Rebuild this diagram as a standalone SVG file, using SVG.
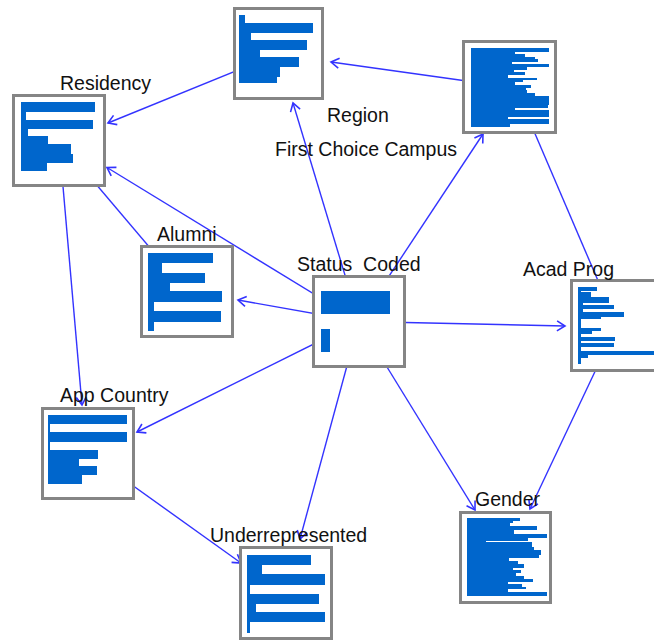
<svg xmlns="http://www.w3.org/2000/svg" width="654" height="641" viewBox="0 0 654 641">
<defs>
<style>
.box{fill:#fff;stroke:#858585;stroke-width:3}
.b{fill:#0066cc;shape-rendering:crispEdges}
.lbl{font-family:"Liberation Sans",Arial,sans-serif;font-size:19.5px;fill:#111;white-space:pre}
.e{stroke:#3333ff;stroke-width:1.4;fill:none}
</style>
<marker id="arr" markerUnits="userSpaceOnUse" markerWidth="14" markerHeight="14" viewBox="-11 -7 13 14" refX="0" refY="0" orient="auto">
<path d="M-8,-5 L0,0 L-8,5" fill="none" stroke="#3333ff" stroke-width="1.6"/>
</marker>
</defs>
<rect width="654" height="641" fill="#fff"/>
<g id="connectors">
<line class="e" x1="509.5" y1="87" x2="331" y2="62" marker-end="url(#arr)"/>
<line class="e" x1="278.5" y1="53.5" x2="108" y2="123" marker-end="url(#arr)"/>
<line class="e" x1="359" y1="321.5" x2="293" y2="103" marker-end="url(#arr)"/>
<line class="e" x1="359" y1="321.5" x2="483" y2="134" marker-end="url(#arr)"/>
<line class="e" x1="617" y1="325" x2="530" y2="122" marker-end="url(#arr)"/>
<line class="e" x1="617" y1="325" x2="530" y2="509" marker-end="url(#arr)"/>
<line class="e" x1="359" y1="321.5" x2="565" y2="326" marker-end="url(#arr)"/>
<line class="e" x1="359" y1="321.5" x2="475" y2="510" marker-end="url(#arr)"/>
<line class="e" x1="359" y1="321.5" x2="300" y2="539" marker-end="url(#arr)"/>
<line class="e" x1="359" y1="321.5" x2="137" y2="432" marker-end="url(#arr)"/>
<line class="e" x1="359" y1="321.5" x2="238" y2="300" marker-end="url(#arr)"/>
<line class="e" x1="359" y1="321.5" x2="107" y2="167.5" marker-end="url(#arr)"/>
<line class="e" x1="59" y1="140.5" x2="187" y2="291.5"/>
<line class="e" x1="59" y1="140.5" x2="82" y2="405" marker-end="url(#arr)"/>
<line class="e" x1="88" y1="453.5" x2="241" y2="563" marker-end="url(#arr)"/>
</g>
<g id="node-region">
<rect class="box" x="234.5" y="8.5" width="88" height="90"/>
<rect class="b" x="239" y="15" width="6" height="8"/>
<rect class="b" x="239" y="23" width="74" height="10"/>
<rect class="b" x="239" y="33" width="12" height="7"/>
<rect class="b" x="239" y="40" width="68" height="10"/>
<rect class="b" x="239" y="50" width="21" height="7"/>
<rect class="b" x="239" y="57" width="60" height="10"/>
<rect class="b" x="239" y="67" width="41" height="10"/>
<rect class="b" x="239" y="77" width="38" height="6"/>
<text class="lbl" x="327" y="122">Region</text>
</g>
<g id="node-first-choice-campus">
<rect class="box" x="463.5" y="41.5" width="92" height="91"/>
<rect class="b" x="471" y="48.3" width="78" height="3.4"/>
<rect class="b" x="471" y="51.7" width="44" height="2.6"/>
<rect class="b" x="471" y="54.3" width="54" height="2.7"/>
<rect class="b" x="471" y="57" width="64" height="2"/>
<rect class="b" x="471" y="59" width="67" height="2.7"/>
<rect class="b" x="471" y="61.7" width="41" height="2.6"/>
<rect class="b" x="471" y="64.3" width="78" height="3"/>
<rect class="b" x="471" y="67.3" width="56" height="2.7"/>
<rect class="b" x="471" y="70" width="43" height="2.3"/>
<rect class="b" x="471" y="72.3" width="54" height="2.7"/>
<rect class="b" x="471" y="75" width="37" height="2.7"/>
<rect class="b" x="471" y="77.7" width="66" height="2.3"/>
<rect class="b" x="471" y="80" width="52" height="2.3"/>
<rect class="b" x="471" y="82.3" width="44" height="2.7"/>
<rect class="b" x="471" y="85" width="60" height="2.7"/>
<rect class="b" x="471" y="87.7" width="55" height="2.6"/>
<rect class="b" x="471" y="90.3" width="56" height="3"/>
<rect class="b" x="471" y="93.3" width="64" height="2.4"/>
<rect class="b" x="471" y="95.7" width="78" height="9.3"/>
<rect class="b" x="471" y="105" width="77" height="2.7"/>
<rect class="b" x="471" y="107.7" width="44" height="2.3"/>
<rect class="b" x="471" y="110" width="78" height="6.7"/>
<rect class="b" x="471" y="116.7" width="37" height="2.3"/>
<rect class="b" x="471" y="119" width="78" height="5.3"/>
<rect class="b" x="471" y="124.3" width="39" height="2.4"/>
<text class="lbl" x="275" y="156">First Choice Campus</text>
</g>
<g id="node-residency">
<rect class="box" x="13.5" y="95.5" width="91" height="90"/>
<rect class="b" x="21" y="102" width="74" height="9.5"/>
<rect class="b" x="21" y="111.5" width="5" height="8"/>
<rect class="b" x="21" y="119.5" width="72" height="9"/>
<rect class="b" x="21" y="128.5" width="7" height="7.5"/>
<rect class="b" x="21" y="136" width="27" height="8"/>
<rect class="b" x="21" y="144" width="50" height="9.5"/>
<rect class="b" x="21" y="153.5" width="52" height="9"/>
<rect class="b" x="21" y="162.5" width="26" height="8.5"/>
<text class="lbl" x="60" y="90">Residency</text>
</g>
<g id="node-alumni">
<rect class="box" x="141.5" y="246.5" width="91" height="90"/>
<rect class="b" x="148" y="252.5" width="65" height="10.5"/>
<rect class="b" x="148" y="263" width="14" height="9.5"/>
<rect class="b" x="148" y="272.5" width="57" height="10"/>
<rect class="b" x="148" y="282.5" width="22" height="8"/>
<rect class="b" x="148" y="290.5" width="74" height="11"/>
<rect class="b" x="148" y="301.5" width="6" height="9"/>
<rect class="b" x="148" y="310.5" width="73" height="11"/>
<rect class="b" x="148" y="321.5" width="6" height="9"/>
<text class="lbl" x="157" y="241">Alumni</text>
</g>
<g id="node-status-coded">
<rect class="box" x="313.5" y="276.5" width="91" height="90"/>
<rect class="b" x="321" y="291" width="69" height="23"/>
<rect class="b" x="321" y="329" width="9" height="23"/>
<text class="lbl" x="297" y="271" xml:space="preserve">Status  Coded</text>
</g>
<g id="node-acad-prog">
<rect class="box" x="571.5" y="280.5" width="91" height="90"/>
<rect class="b" x="578" y="287" width="3" height="77"/>
<rect class="b" x="578" y="287" width="19" height="4"/>
<rect class="b" x="578" y="291.5" width="13" height="5"/>
<rect class="b" x="578" y="296.5" width="5" height="1"/>
<rect class="b" x="578" y="297" width="31" height="6"/>
<rect class="b" x="578" y="303" width="5" height="1.5"/>
<rect class="b" x="578" y="304.5" width="36" height="4"/>
<rect class="b" x="578" y="308.5" width="5" height="3.5"/>
<rect class="b" x="578" y="312" width="46" height="4.5"/>
<rect class="b" x="578" y="316.5" width="23" height="2.5"/>
<rect class="b" x="578" y="327.5" width="23" height="3.5"/>
<rect class="b" x="578" y="331" width="14" height="3"/>
<rect class="b" x="578" y="336.5" width="37" height="4.5"/>
<rect class="b" x="578" y="343" width="36" height="3.5"/>
<rect class="b" x="578" y="350.5" width="76" height="4.5"/>
<rect class="b" x="578" y="355" width="10" height="2.5"/>
<text class="lbl" x="523" y="276">Acad Prog</text>
</g>
<g id="node-app-country">
<rect class="box" x="42.5" y="408.5" width="91" height="90"/>
<rect class="b" x="48" y="415" width="79" height="8.5"/>
<rect class="b" x="48" y="423.5" width="2" height="8"/>
<rect class="b" x="48" y="431.5" width="79" height="10"/>
<rect class="b" x="48" y="441.5" width="2" height="8"/>
<rect class="b" x="48" y="449.5" width="50" height="9"/>
<rect class="b" x="48" y="458.5" width="31" height="7.5"/>
<rect class="b" x="48" y="466" width="49" height="9"/>
<rect class="b" x="48" y="475" width="34" height="9"/>
<text class="lbl" x="60" y="402">App Country</text>
</g>
<g id="node-underrepresented">
<rect class="box" x="240.5" y="547.5" width="91" height="91"/>
<rect class="b" x="247" y="555" width="64" height="10"/>
<rect class="b" x="247" y="565" width="15" height="8.5"/>
<rect class="b" x="247" y="573.5" width="78" height="11"/>
<rect class="b" x="247" y="584.5" width="2.5" height="9"/>
<rect class="b" x="247" y="593.5" width="72" height="10"/>
<rect class="b" x="247" y="603.5" width="9" height="8"/>
<rect class="b" x="247" y="611.5" width="78" height="10"/>
<rect class="b" x="247" y="621.5" width="2.5" height="11"/>
<text class="lbl" x="210" y="542">Underrepresented</text>
</g>
<g id="node-gender">
<rect class="box" x="460.5" y="512.5" width="90" height="90"/>
<rect class="b" x="467" y="517.7" width="53" height="3"/>
<rect class="b" x="467" y="520.7" width="46" height="2.6"/>
<rect class="b" x="467" y="523.3" width="43" height="2.4"/>
<rect class="b" x="467" y="525.7" width="70" height="4.3"/>
<rect class="b" x="467" y="530" width="47" height="4.3"/>
<rect class="b" x="467" y="534.3" width="80" height="4"/>
<rect class="b" x="467" y="538.3" width="61" height="2.7"/>
<rect class="b" x="467" y="541" width="19" height="1.3"/>
<rect class="b" x="467" y="542.3" width="65" height="4.4"/>
<rect class="b" x="467" y="546.7" width="67" height="3.3"/>
<rect class="b" x="467" y="550" width="74" height="5"/>
<rect class="b" x="467" y="555" width="72" height="3.3"/>
<rect class="b" x="467" y="558.3" width="42" height="2.7"/>
<rect class="b" x="467" y="561" width="51" height="3.3"/>
<rect class="b" x="467" y="564.3" width="57" height="3.4"/>
<rect class="b" x="467" y="567.7" width="46" height="2.3"/>
<rect class="b" x="467" y="570" width="54" height="3.3"/>
<rect class="b" x="467" y="573.3" width="49" height="2.4"/>
<rect class="b" x="467" y="575.7" width="57" height="3.3"/>
<rect class="b" x="467" y="579" width="66" height="2.7"/>
<rect class="b" x="467" y="581.7" width="41" height="2.6"/>
<rect class="b" x="467" y="584.3" width="55" height="2.4"/>
<rect class="b" x="467" y="586.7" width="59" height="2.3"/>
<rect class="b" x="467" y="589" width="41" height="2.7"/>
<rect class="b" x="467" y="591.7" width="80" height="4.3"/>
<text class="lbl" x="475" y="506">Gender</text>
</g>
</svg>
